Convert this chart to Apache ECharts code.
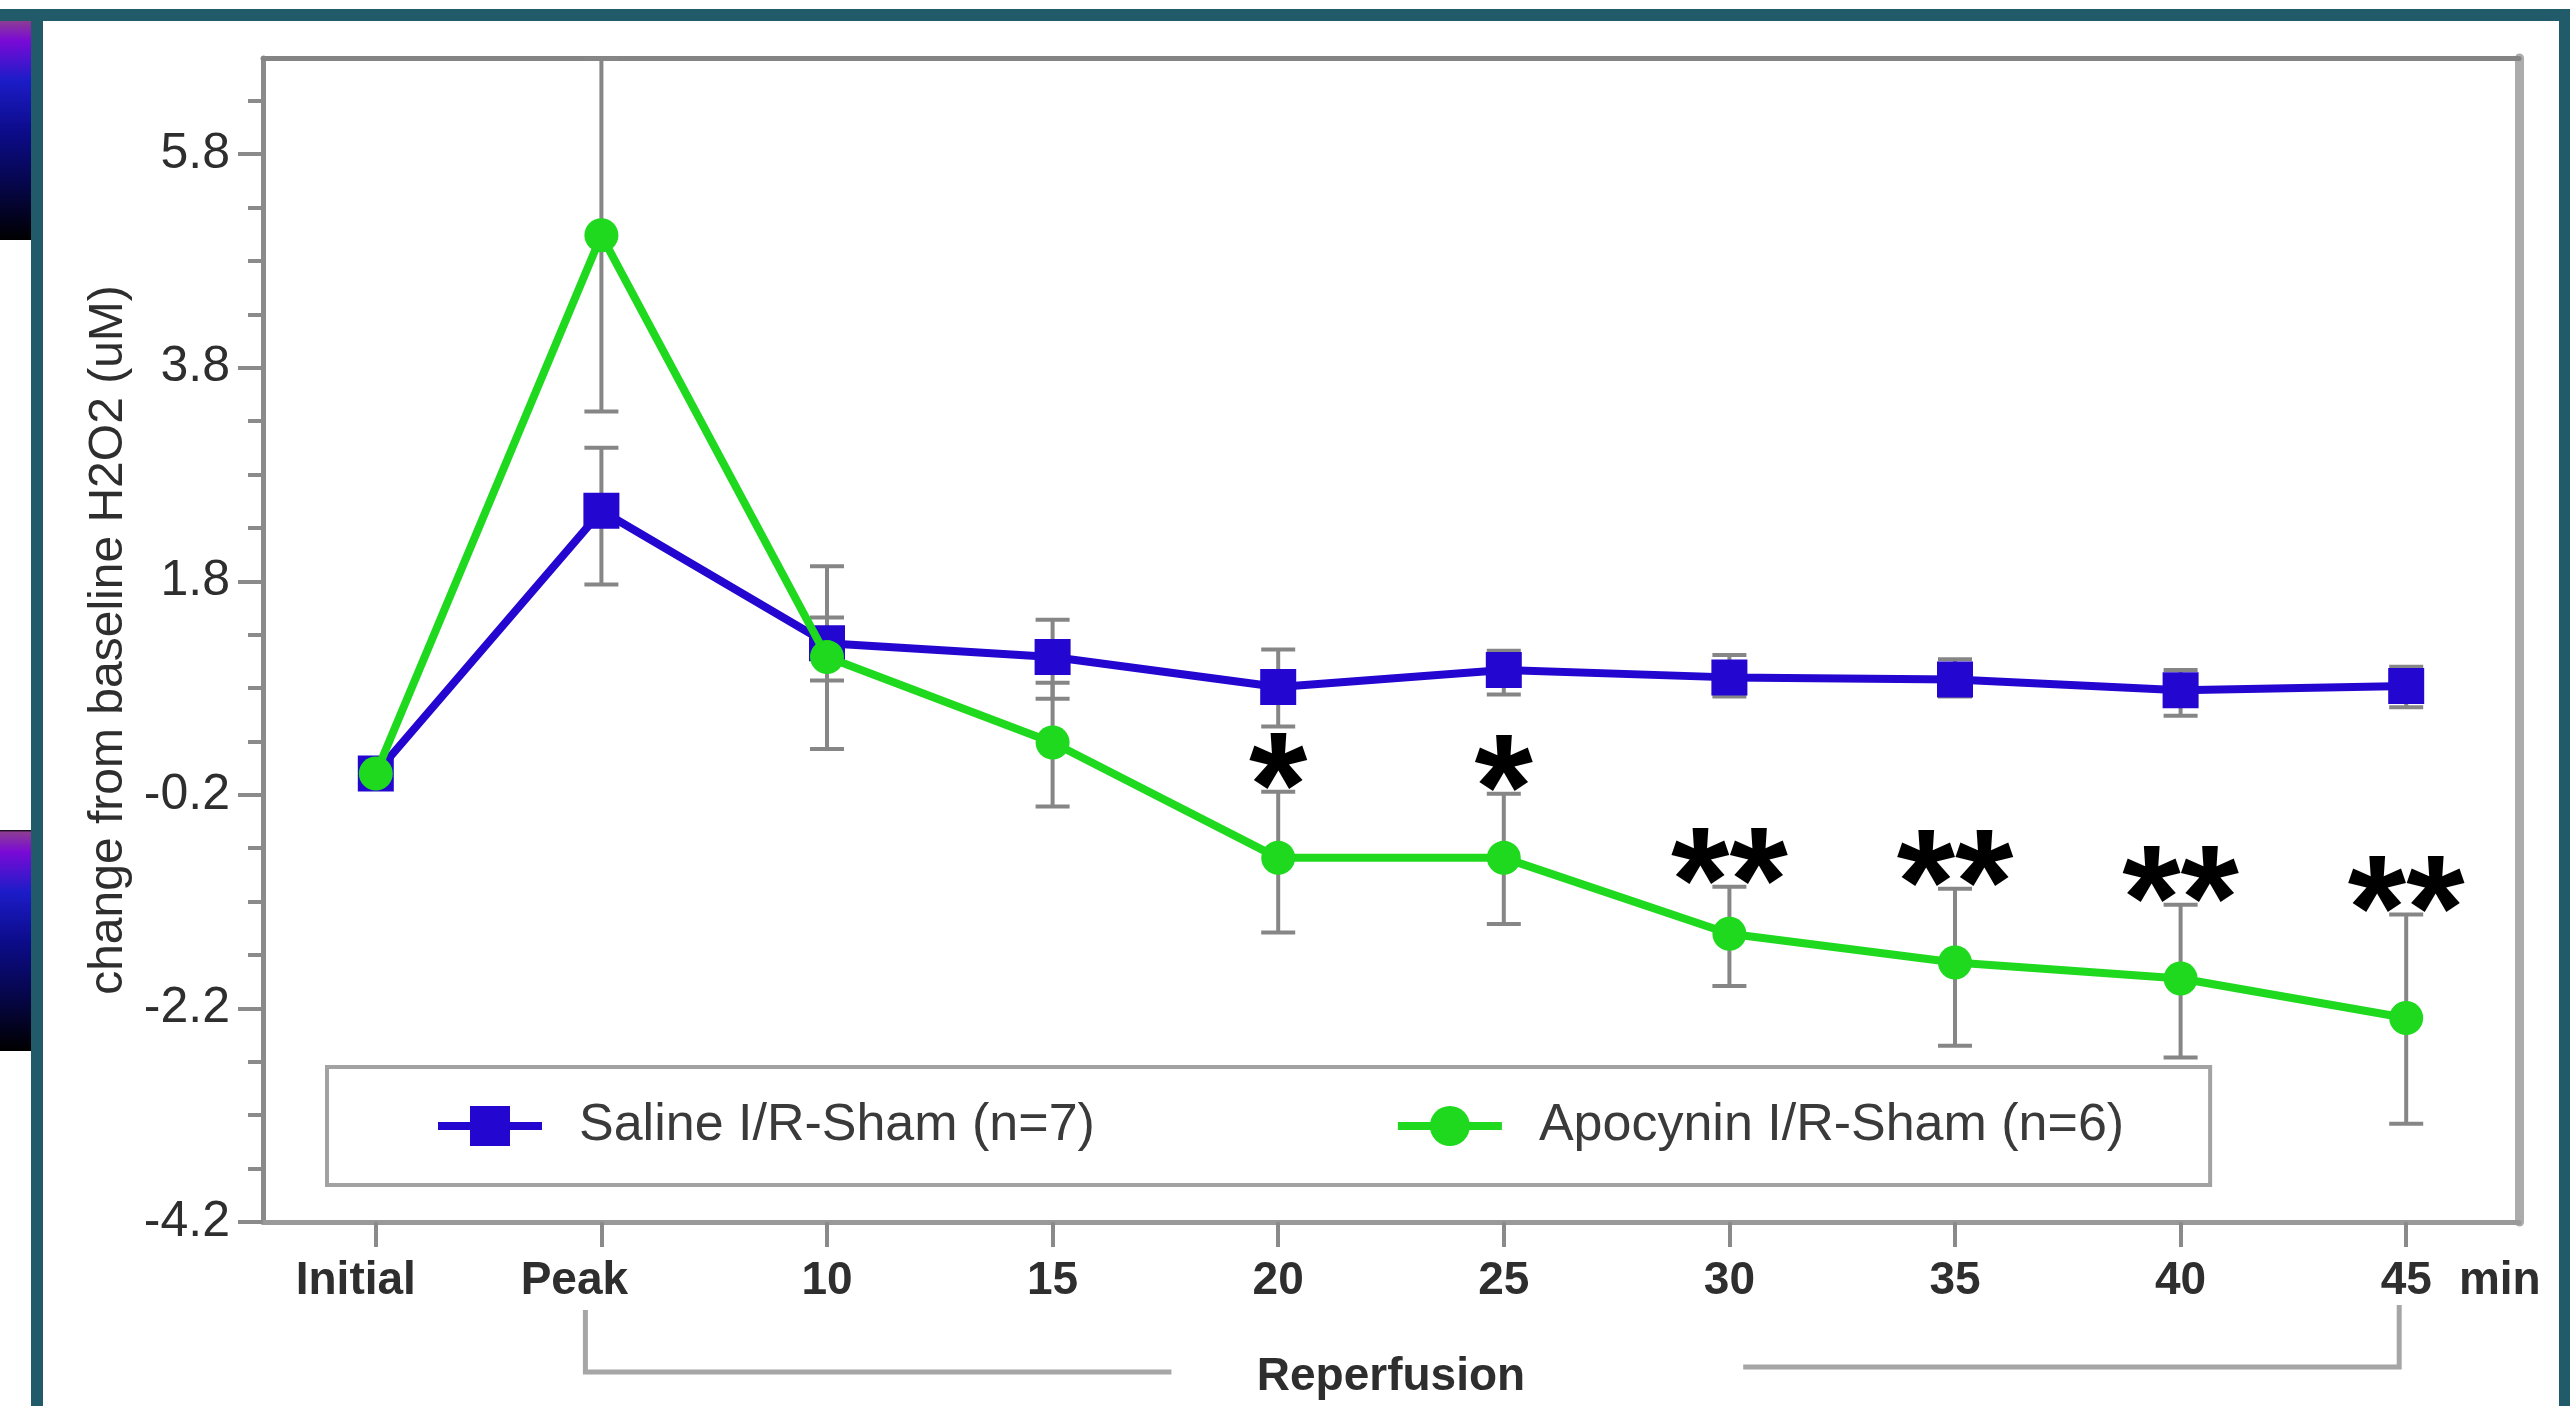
<!DOCTYPE html>
<html>
<head>
<meta charset="utf-8">
<script src="https://cdn.jsdelivr.net/npm/echarts@6.0.0/dist/echarts.min.js"></script>
<style>
html,body{margin:0;padding:0;background:#ffffff;}
#chart{width:2570px;height:1406px;}
</style>
</head>
<body>
<div id="chart"></div>
<script>
// ---------------- data ----------------
const categories = ['Initial', 'Peak', '10', '15', '20', '25', '30', '35', '40', '45'];
const unitLabel = 'min';
const groupLabel = 'Reperfusion';
const yTitle = 'change from baseline H2O2 (uM)';
const yMin = -4.2;
const yMax = 6.7;
const yMajorTicks = [-4.2, -2.2, -0.2, 1.8, 3.8, 5.8];
const yMinorTicks = [-3.7, -3.2, -2.7, -1.7, -1.2, -0.7, 0.3, 0.8, 1.3, 2.3, 2.8, 3.3, 4.3, 4.8, 5.3, 6.3];

const salineName = 'Saline I/R-Sham (n=7)';
const salineMean = [0.0, 2.46, 1.22, 1.09, 0.81, 0.97, 0.90, 0.88, 0.78, 0.82];
const salineLow  = [-0.05, 1.77, 0.87, 0.70, 0.44, 0.74, 0.72, 0.72, 0.54, 0.62];
const salineHigh = [0.05, 3.05, 1.46, 1.44, 1.16, 1.15, 1.11, 1.07, 0.97, 1.00];

const apoName = 'Apocynin I/R-Sham (n=6)';
const apoMean = [0.0, 5.04, 1.09, 0.29, -0.79, -0.79, -1.50, -1.77, -1.92, -2.29];
const apoLow  = [-0.05, 3.39, 0.23, -0.31, -1.49, -1.41, -1.99, -2.55, -2.66, -3.28];
const apoHigh = [0.05, 6.69, 1.94, 0.85, -0.17, -0.19, -1.06, -1.08, -1.23, -1.32];

const significance = ['', '', '', '', '*', '*', '**', '**', '**', '**'];

// ---------------- styles ----------------
const FONT = '"Liberation Sans", Arial, sans-serif';
const BLUE = '#2306d0';
const GREEN = '#1ed91e';
const TEAL = '#215a69';
const AXIS = '#8a8a8a';
const TEXT = '#2e2e2e';
// right-hand padding (px) that nudges the first labels left, as in the original figure
const labelRightPad = {0: 40, 1: 54};

const chart = echarts.init(document.getElementById('chart'), null, {renderer: 'canvas'});

function errorBarItem(params, api) {
  const i = api.value(0);
  const lo = api.coord([i, api.value(1)]);
  const hi = api.coord([i, api.value(2)]);
  const hw = 17;
  const style = {stroke: '#868686', lineWidth: 4};
  return {
    type: 'group',
    children: [
      {type: 'line', shape: {x1: lo[0], y1: lo[1], x2: hi[0], y2: hi[1]}, style: style},
      {type: 'line', shape: {x1: lo[0] - hw, y1: lo[1], x2: lo[0] + hw, y2: lo[1]}, style: style},
      {type: 'line', shape: {x1: hi[0] - hw, y1: hi[1], x2: hi[0] + hw, y2: hi[1]}, style: style}
    ]
  };
}

const salineErr = categories.map((c, i) => [i, salineLow[i], salineHigh[i]]);
const apoErr = categories.map((c, i) => [i, apoLow[i], apoHigh[i]]);
const sigData = [];
significance.forEach((s, i) => { if (s) sigData.push([i, apoHigh[i], s]); });

const lastIdx = categories.length - 1;

const option = {
  animation: false,
  backgroundColor: '#ffffff',
  textStyle: {fontFamily: FONT},
  grid: {left: 263, top: 58, right: 51, bottom: 184, containLabel: false},
  legend: {
    left: 327, top: 1067,
    orient: 'horizontal',
    data: [salineName, apoName],
    itemWidth: 104, itemHeight: 50, itemGap: 299,
    padding: [33, 86, 33, 107],
    borderColor: '#a2a2a2', borderWidth: 4, borderRadius: 0,
    backgroundColor: '#ffffff',
    lineStyle: {width: 8},
    textStyle: {fontSize: 52, color: '#3a3a3a', fontFamily: FONT, padding: [0, 0, 0, 32]},
    selectedMode: false
  },
  xAxis: [
    {
      type: 'category', data: categories, boundaryGap: true, position: 'bottom',
      axisLine: {show: true, onZero: false, lineStyle: {color: '#999999', width: 5}},
      axisTick: {show: true, alignWithLabel: true, length: 25, lineStyle: {color: AXIS, width: 4}},
      axisLabel: {
        interval: 0, margin: 36, fontSize: 46, fontWeight: 'bold', color: TEXT, fontFamily: FONT,
        formatter: function (v, idx) {
          if (idx === lastIdx) return '{pad|}{n|' + v + '}{gap|}{n|' + unitLabel + '}';
          if (labelRightPad[idx]) return '{n|' + v + '}{p' + idx + '|}';
          return v;
        },
        rich: {
          pad: {width: 109},
          gap: {width: 27},
          p0: {width: labelRightPad[0]},
          p1: {width: labelRightPad[1]},
          n: {fontSize: 46, fontWeight: 'bold', color: TEXT, fontFamily: FONT}
        }
      },
      name: groupLabel, nameLocation: 'middle', nameGap: 132,
      nameTextStyle: {fontSize: 46, fontWeight: 'bold', color: TEXT, fontFamily: FONT},
      splitLine: {show: false}
    },
    {
      type: 'category', data: categories, position: 'top',
      axisLine: {show: true, onZero: false, lineStyle: {color: '#848484', width: 5}},
      axisTick: {show: false}, axisLabel: {show: false}, splitLine: {show: false}
    }
  ],
  yAxis: [
    {
      type: 'value', min: yMin, max: yMax, position: 'left',
      axisLine: {show: true, onZero: false, lineStyle: {color: AXIS, width: 5}},
      axisTick: {show: true, length: 25, customValues: yMajorTicks, lineStyle: {color: AXIS, width: 4}},
      axisLabel: {show: true, customValues: yMajorTicks, margin: 33, fontSize: 50, color: TEXT, fontFamily: FONT},
      splitLine: {show: false},
      name: yTitle, nameLocation: 'middle', nameGap: 126, nameRotate: 90,
      nameTextStyle: {fontSize: 48, color: TEXT, fontFamily: FONT}
    },
    {
      type: 'value', min: yMin, max: yMax, position: 'left',
      axisLine: {show: false, onZero: false},
      axisTick: {show: true, length: 15, customValues: yMinorTicks, lineStyle: {color: AXIS, width: 4}},
      axisLabel: {show: false}, splitLine: {show: false}
    },
    {
      type: 'value', min: yMin, max: yMax, position: 'right',
      axisLine: {show: true, onZero: false, lineStyle: {color: '#acacac', width: 9}},
      axisTick: {show: false}, axisLabel: {show: false}, splitLine: {show: false}
    }
  ],
  series: [
    {
      name: 'saline-err', type: 'custom', xAxisIndex: 0, yAxisIndex: 0, z: 1,
      renderItem: errorBarItem, data: salineErr, encode: {x: 0, y: [1, 2]}, silent: true
    },
    {
      name: 'apo-err', type: 'custom', xAxisIndex: 0, yAxisIndex: 0, z: 1,
      renderItem: errorBarItem, data: apoErr, encode: {x: 0, y: [1, 2]}, silent: true
    },
    {
      name: salineName, type: 'line', data: salineMean, z: 3,
      symbol: 'rect', symbolSize: 36,
      itemStyle: {color: BLUE}, lineStyle: {color: BLUE, width: 8}
    },
    {
      name: apoName, type: 'line', data: apoMean, z: 4,
      symbol: 'circle', symbolSize: 34,
      itemStyle: {color: GREEN}, lineStyle: {color: GREEN, width: 8}
    },
    {
      name: 'significance', type: 'custom', z: 5, silent: true,
      data: sigData, encode: {x: 0, y: 1},
      renderItem: function (params, api) {
        const p = api.coord([api.value(0), api.value(1)]);
        return {
          type: 'text', x: p[0], y: p[1] + 4,
          style: {
            text: sigData[params.dataIndex][2], fill: '#000000',
            fontSize: 150, fontWeight: 'bold', fontFamily: FONT,
            align: 'center', verticalAlign: 'middle'
          }
        };
      }
    }
  ],
  graphic: [
    {type: 'rect', shape: {x: 0, y: 9, width: 2570, height: 12}, style: {fill: TEAL}, z: 100},
    {type: 'rect', shape: {x: 31, y: 21, width: 12, height: 1385}, style: {fill: TEAL}, z: 100},
    {type: 'rect', shape: {x: 2559, y: 9, width: 11, height: 1397}, style: {fill: TEAL}, z: 100},
    {type: 'rect', shape: {x: 0, y: 21, width: 31, height: 219},
      style: {fill: new echarts.graphic.LinearGradient(0, 0, 0, 1, [
        {offset: 0, color: '#8c3c94'}, {offset: 0.09, color: '#7a0ad6'}, {offset: 0.27, color: '#1c1cc8'},
        {offset: 0.5, color: '#0c0c8c'}, {offset: 0.75, color: '#06064a'}, {offset: 1, color: '#000000'}])}, z: 100},
    {type: 'rect', shape: {x: 0, y: 830, width: 31, height: 221},
      style: {fill: new echarts.graphic.LinearGradient(0, 0, 0, 1, [
        {offset: 0, color: '#000000'}, {offset: 0.01, color: '#8c3c94'}, {offset: 0.1, color: '#7a0ad6'}, {offset: 0.28, color: '#1c1cc8'},
        {offset: 0.5, color: '#0c0c8c'}, {offset: 0.75, color: '#06064a'}, {offset: 1, color: '#000000'}])}, z: 100}
  ]
};

chart.setOption(option);

// Reperfusion bracket, placed from the category axis positions
const xPeak = chart.convertToPixel({xAxisIndex: 0}, categories[1]);
const xLast = chart.convertToPixel({xAxisIndex: 0}, categories[lastIdx]);
const bracketStyle = {stroke: '#a6a6a6', lineWidth: 5};
const g = option.graphic.slice();
g.push({type: 'polyline', shape: {points: [[xPeak - 16, 1310], [xPeak - 16, 1372], [xPeak + 570, 1372]]}, style: bracketStyle, z: 50});
g.push({type: 'polyline', shape: {points: [[xLast - 663, 1367], [xLast - 7, 1367], [xLast - 7, 1305]]}, style: bracketStyle, z: 50});
chart.setOption({graphic: g}, {replaceMerge: ['graphic']});
</script>
</body>
</html>
